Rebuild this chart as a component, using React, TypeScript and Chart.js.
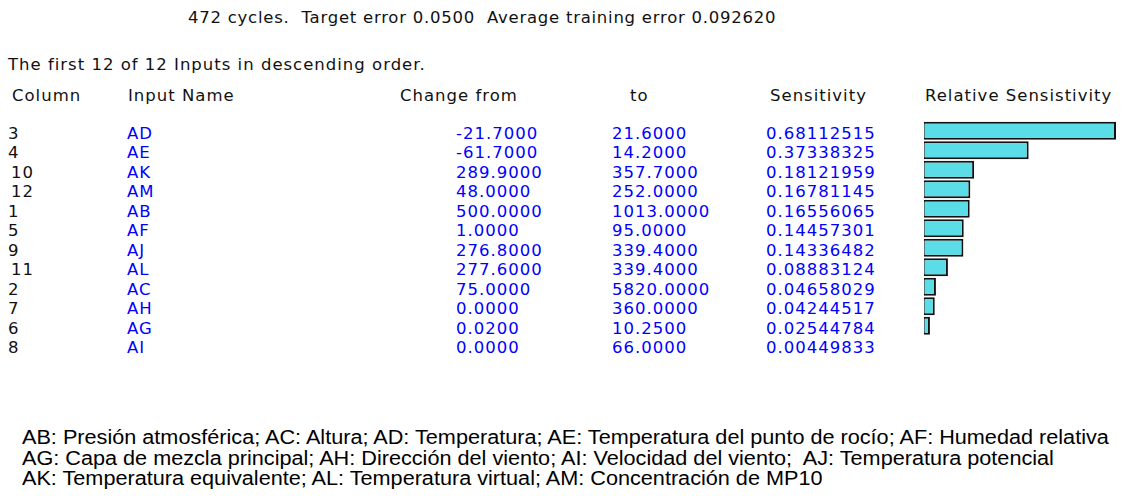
import React, { useEffect, useRef } from "react";
import { Chart, registerables } from "chart.js";

Chart.register(...registerables);

// ---- data ----
const titleText = "472 cycles.  Target error 0.0500  Average training error 0.092620";
const subtitleText = "The first 12 of 12 Inputs in descending order.";
const headers = ["Column", "Input Name", "Change from", "to", "Sensitivity", "Relative Sensistivity"];
const columnNumbers = ["3", "4", "10", "12", "1", "5", "9", "11", "2", "7", "6", "8"];
const inputNames = ["AD", "AE", "AK", "AM", "AB", "AF", "AJ", "AL", "AC", "AH", "AG", "AI"];
const changeFrom = [-21.7, -61.7, 289.9, 48.0, 500.0, 1.0, 276.8, 277.6, 75.0, 0.0, 0.02, 0.0];
const changeTo = [21.6, 14.2, 357.7, 252.0, 1013.0, 95.0, 339.4, 339.4, 5820.0, 360.0, 10.25, 66.0];
const sensitivity = [
  0.68112515, 0.37338325, 0.18121959, 0.16781145, 0.16556065, 0.14457301,
  0.14336482, 0.08883124, 0.04658029, 0.04244517, 0.02544784, 0.00449833,
];
const legendLines = [
  "AB: Presión atmosférica; AC: Altura; AD: Temperatura; AE: Temperatura del punto de rocío; AF: Humedad relativa",
  "AG: Capa de mezcla principal; AH: Dirección del viento; AI: Velocidad del viento;  AJ: Temperatura potencial",
  "AK: Temperatura equivalente; AL: Temperatura virtual; AM: Concentración de MP10",
];

// ---- layout ----
const ROW_Y0 = 134;
const ROW_H = 19.48;
const TABLE_FONT = '"DejaVu Sans", sans-serif';
const TABLE_SIZE = 16.5;
const BLUE = "#0000ff";
const BAR_LEFT = 924;
const BAR_WIDTH = 192;
const BAR_TOP = 121;

const headerX = [12, 128, 400, 630, 770, 925];
const colX = { col: 8, name: 127, from: 456, to: 612, sens: 766 };

function Txt(props: {
  x: number;
  y: number;
  color?: string;
  children: React.ReactNode;
  font?: string;
  size?: number;
  spacing?: number;
  stretch?: number;
}) {
  const { x, y, color = "#000", children, font = TABLE_FONT, size = TABLE_SIZE, spacing = 1, stretch = 1 } = props;
  return (
    <div
      style={{
        position: "absolute",
        left: x,
        top: y - 10,
        height: 20,
        lineHeight: "20px",
        fontFamily: font,
        fontSize: size,
        letterSpacing: spacing,
        color,
        whiteSpace: "pre",
        transform: stretch !== 1 ? `scaleX(${stretch})` : undefined,
        transformOrigin: "left center",
      }}
    >
      {children}
    </div>
  );
}

function BarChart() {
  const ref = useRef<HTMLCanvasElement | null>(null);
  useEffect(() => {
    if (!ref.current) return;
    const chart = new Chart(ref.current, {
      type: "bar",
      data: {
        labels: inputNames,
        datasets: [
          {
            data: sensitivity,
            backgroundColor: "#5adde6",
            borderColor: "#111111",
            borderWidth: 2,
            borderSkipped: false,
            barPercentage: 0.93,
            categoryPercentage: 1,
          },
        ],
      },
      options: {
        indexAxis: "y",
        animation: false,
        responsive: false,
        maintainAspectRatio: false,
        devicePixelRatio: 1,
        layout: { padding: 0 },
        plugins: { legend: { display: false }, tooltip: { enabled: false }, title: { display: false } },
        scales: {
          x: {
            type: "linear",
            display: false,
            min: Math.min(...sensitivity),
            max: Math.max(...sensitivity),
          },
          y: { display: false, offset: true },
        },
      },
    });
    return () => chart.destroy();
  }, []);
  return (
    <canvas
      ref={ref}
      width={BAR_WIDTH}
      height={Math.round(ROW_H * 12)}
      style={{ position: "absolute", left: BAR_LEFT, top: BAR_TOP, width: BAR_WIDTH, height: Math.round(ROW_H * 12) }}
    />
  );
}

export default function App() {
  return (
    <div
      style={{
        position: "absolute",
        left: 0,
        top: 0,
        width: 1131,
        height: 496,
        background: "#ffffff",
        overflow: "hidden",
      }}
    >
      <Txt x={188} y={18} color="#111" spacing={0.75}>{titleText}</Txt>
      <Txt x={8} y={65} color="#111">{subtitleText}</Txt>
      {headers.map((h, i) => (
        <Txt key={h} x={headerX[i]} y={96} color="#111">{h}</Txt>
      ))}
      {columnNumbers.map((c, i) => (
        <React.Fragment key={i}>
          <Txt x={colX.col + (c.length > 1 ? 3 : 0)} y={ROW_Y0 + i * ROW_H} color="#111">{c}</Txt>
          <Txt x={colX.name} y={ROW_Y0 + i * ROW_H} color={BLUE}>{inputNames[i]}</Txt>
          <Txt x={colX.from} y={ROW_Y0 + i * ROW_H} color={BLUE}>{changeFrom[i].toFixed(4)}</Txt>
          <Txt x={colX.to} y={ROW_Y0 + i * ROW_H} color={BLUE}>{changeTo[i].toFixed(4)}</Txt>
          <Txt x={colX.sens} y={ROW_Y0 + i * ROW_H} color={BLUE}>{sensitivity[i].toFixed(8)}</Txt>
        </React.Fragment>
      ))}
      <BarChart />
      {legendLines.map((l, i) => (
        <Txt
          key={i}
          x={22}
          y={437 + i * 20.5}
          color="#000"
          font='"Liberation Sans", Arial, sans-serif'
          size={19.5}
          spacing={0}
          stretch={1.11}
        >
          {l}
        </Txt>
      ))}
    </div>
  );
}
